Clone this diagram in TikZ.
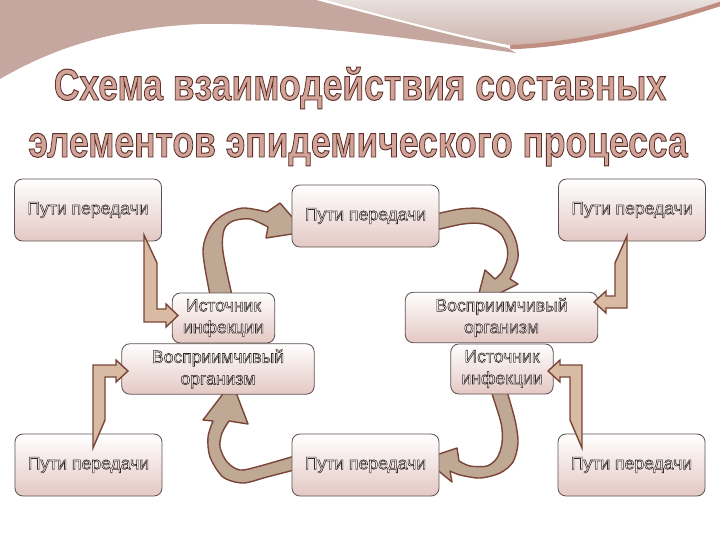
\documentclass[tikz,border=0pt]{standalone}
\usepackage{fontspec}
\setmainfont{Liberation Sans}
\usetikzlibrary{positioning}

\definecolor{rosebg}{HTML}{C6A7A0}
\definecolor{lighttop}{HTML}{E8E0DD}
\definecolor{lightbot}{HTML}{CDB3AC}
\definecolor{swish}{HTML}{C08E80}
\definecolor{boxline}{HTML}{5E5250}
\definecolor{boxpink}{HTML}{E4C8C3}
\definecolor{arrowline}{HTML}{7A4538}
\definecolor{elbowfill}{HTML}{D8BBA2}
\definecolor{curvefill}{HTML}{BFA995}
\definecolor{titlefill}{HTML}{D2A398}

% text with fill colour, stroke colour and stroke width
\newcommand\outl[4]{{\color{#1}\special{pdf:literal direct #2 RG #3 w 2 Tr}#4\special{pdf:literal direct 0 Tr}}}
\newcommand\btext[1]{\outl{white}{0.2 0.15 0.15}{0.4}{#1}}
\newcommand\ttext[1]{\scalebox{0.8}[1]{\fontsize{31.5}{38}\selectfont\bfseries\outl{titlefill}{0.36 0.19 0.16}{0.7}{#1}}}

\tikzset{
  pbox/.style={draw=boxline, line width=0.6pt, rounded corners=0.2cm,
    top color=white, bottom color=boxpink, align=center, inner sep=0pt,
    font=\fontsize{12.5}{15.5}\selectfont},
  way/.style={minimum width=3.675cm, minimum height=1.55cm},
  src/.style={minimum width=2.56cm, minimum height=1.25cm},
  host/.style={minimum width=4.81cm, minimum height=1.26cm},
  elbow/.style={fill=elbowfill, draw=arrowline, line width=1pt, line join=miter},
  curved/.style={fill=curvefill, draw=arrowline, line width=1pt, line join=round}
}

\begin{document}
\begin{tikzpicture}[x=0.025cm, y=-0.025cm]
\useasboundingbox (0,0) rectangle (720,540);

% background swoosh
\fill[rosebg] (0,0) -- (316,0) .. controls (400,22) and (460,38) .. (508,48)
  -- (516,53) .. controls (420,40) and (300,22) .. (200,24)
  .. controls (110,28) and (50,50) .. (0,79) -- cycle;
\shade[top color=lighttop, bottom color=lightbot] (326,0) -- (720,0) -- (720,4)
  .. controls (640,28) and (570,44) .. (514,46)
  .. controls (460,36) and (400,20) .. (326,0) -- cycle;
\draw[swish, line width=0.11cm, line cap=round] (512,47) .. controls (570,45) and (640,30) .. (720,4);

% title
\node (title1) at (360,100) [anchor=base] {\ttext{Схема взаимодействия составных}};
\node (title2) at (358,157) [anchor=base] {\ttext{элементов эпидемического процесса}};

% curved arrows
\draw[curved] plot[smooth] coordinates {(211,300) (203,252) (210,228) (223,215) (243,208) (267,212)}
  -- (280,203) -- (305,232) -- (266,238)
  -- plot[smooth] coordinates {(268,227) (250,219) (233,221) (224,230) (223,252) (233,300)} -- cycle;
\draw[curved] plot[smooth] coordinates {(432,215) (460,209) (483,209) (503,219) (515,238) (518,258) (510,279)}
  -- (518,284) -- (476,305) -- (485,270)
  -- plot[smooth] coordinates {(495,279) (502,272) (507,260) (507,247) (500,233) (483,224) (463,224) (432,231)} -- cycle;
\draw[curved] plot[smooth] coordinates {(298,469) (267,477) (243,483) (223,477) (210,457) (208,437) (213,421)}
  -- (203,420) -- (232,382) -- (248,424)
  -- plot[smooth] coordinates {(229,421) (222,433) (220,447) (227,462) (240,470) (260,466) (298,455)} -- cycle;
\draw[curved] plot[smooth] coordinates {(506,388) (515,420) (518,443) (513,462) (500,473) (480,478) (460,475) (450,471)}
  -- (452,482) -- (424,459) -- (457,448)
  -- plot[smooth] coordinates {(459,461) (470,466) (487,466) (497,458) (502,443) (501,423) (490,388)} -- cycle;

% boxes
\node (ptl)  at (88,210)    [pbox, way]  {\btext{Пути передачи}};
\node (ptc)  at (365.5,216) [pbox, way]  {\btext{Пути передачи}};
\node (ptr)  at (632,210)   [pbox, way]  {\btext{Пути передачи}};
\node (istl) at (223.5,318) [pbox, src]  {\btext{Источник}\\\btext{инфекции}};
\node (vosl) at (218,369)   [pbox, host] {\btext{Восприимчивый}\\\btext{организм}};
\node (vosr) at (501.5,317.5) [pbox, host] {\btext{Восприимчивый}\\\btext{организм}};
\node (istr) at (502,369)   [pbox, src]  {\btext{Источник}\\\btext{инфекции}};
\node (pbl)  at (88.5,465)  [pbox, way]  {\btext{Пути передачи}};
\node (pbc)  at (365.5,465) [pbox, way]  {\btext{Пути передачи}};
\node (pbr)  at (631.5,465) [pbox, way]  {\btext{Пути передачи}};

% bent arrows
\draw[elbow] (144,235) -- (144,322) -- (166,322) -- (166,327) -- (178,315.5) -- (166,304)
  -- (166,309) -- (157,309) -- (157,263) -- cycle;
\draw[elbow] (627,236) -- (627,308) -- (606,308) -- (606,313) -- (594,302) -- (606,291)
  -- (606,296) -- (615,296) -- (615,263) -- cycle;
\draw[elbow] (93,448) -- (93,365) -- (116,365) -- (116,360) -- (128,371) -- (116,382)
  -- (116,377) -- (105,377) -- (105,420) -- cycle;
\draw[elbow] (582,448) -- (582,365) -- (560,365) -- (560,360) -- (548,371) -- (560,382)
  -- (560,377) -- (570,377) -- (570,420) -- cycle;

\end{tikzpicture}
\end{document}
